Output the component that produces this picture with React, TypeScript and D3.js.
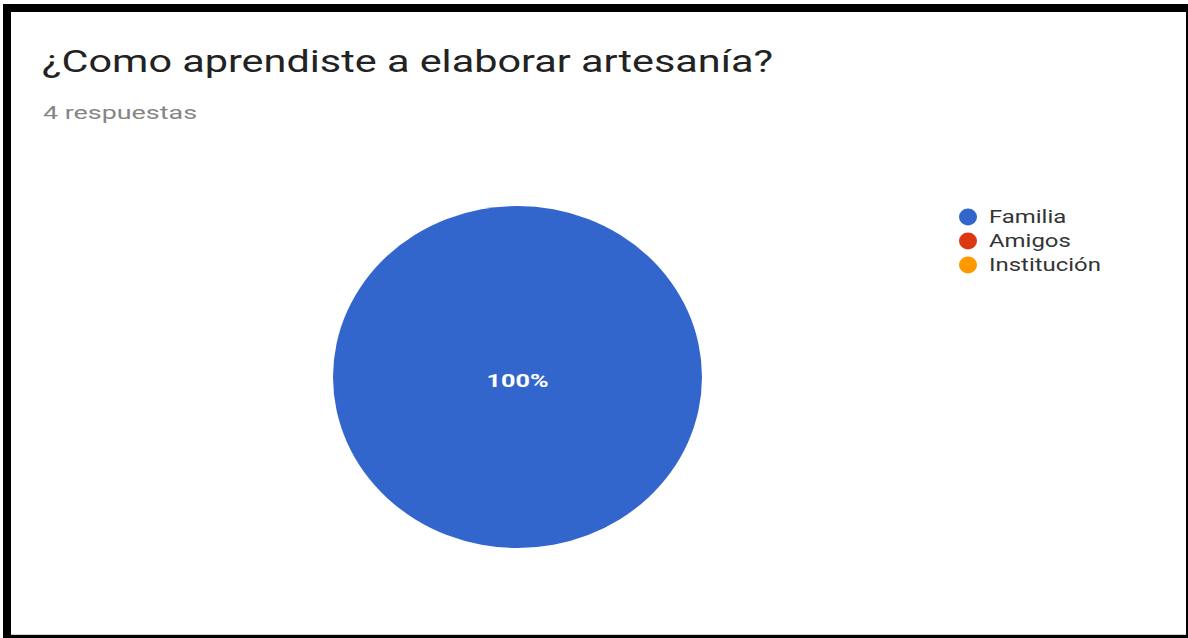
import React from "react";
import * as d3 from "d3";

const categories = ["Familia", "Amigos", "Institución"];
const values = [4, 0, 0];
const colors = ["#3366cc", "#dc3912", "#ff9900"];
const title = "¿Como aprendiste a elaborar artesanía?";
const subtitle = "4 respuestas";

export default function App() {
  const W = 1188, H = 638;
  const cx = 517.5, cy = 377, rx = 184.5, ry = 171;
  const sx = 1.33; // horizontal stretch of the original screenshot text
  const total = d3.sum(values);
  const pie = d3.pie<number>().sort(null).value((d) => d);
  const arcs = pie(values);
  const arc = d3.arc<d3.PieArcDatum<number>>().innerRadius(0).outerRadius(rx);
  const fmt = d3.format(".0%");
  const legendY = d3.scalePoint<string>().domain(categories).range([217, 265]);
  return (
    <svg width={W} height={H} style={{ position: "absolute", left: 0, top: 0, fontFamily: "Roboto, Arial, sans-serif" }}>
      <rect x={0} y={0} width={W} height={H} fill="#fff" />
      <rect x={3} y={4} width={W - 3} height={H - 4} fill="#000" />
      <rect x={11} y={12} width={1175} height={623} fill="#fff" />
      <line x1={11} x2={1186} y1={634.5} y2={634.5} stroke="#d0d0d0" strokeWidth={1} />
      <text x={42} y={72} fontSize={31} fill="#222" textLength={731} lengthAdjust="spacingAndGlyphs">{title}</text>
      <text x={43} y={119} fontSize={18} fill="#858585" textLength={154} lengthAdjust="spacingAndGlyphs">{subtitle}</text>
      <g transform={`translate(${cx},${cy}) scale(1,${ry / rx})`}>
        {arcs.map((a, i) =>
          a.value > 0 ? (
            a.endAngle - a.startAngle >= 2 * Math.PI - 1e-6 ? (
              <circle key={i} r={rx} fill={colors[i]} />
            ) : (
              <path key={i} d={arc(a) || ""} fill={colors[i]} />
            )
          ) : null
        )}
      </g>
      {arcs.map((a, i) => {
        if (a.value <= 0) return null;
        const full = a.endAngle - a.startAngle >= 2 * Math.PI - 1e-6;
        const [lx, ly] = full ? [0, 0] : arc.centroid(a);
        return (
          <g key={i} transform={`translate(${cx + lx},${cy + ly * (ry / rx) + 10}) scale(${sx},1)`}>
            <text x={0} y={0} textAnchor="middle" fontSize={19} fontWeight="bold" fill="#fff">
              {fmt(a.value / total)}
            </text>
          </g>
        );
      })}
      {categories.map((c, i) => (
        <g key={c} transform={`translate(0,${legendY(c)})`}>
          <ellipse cx={968} cy={0} rx={9} ry={8.5} fill={colors[i]} />
          <g transform={`translate(989,6) scale(${sx},1)`}>
            <text x={0} y={0} fontSize={18} fill="#333">{c}</text>
          </g>
        </g>
      ))}
    </svg>
  );
}
